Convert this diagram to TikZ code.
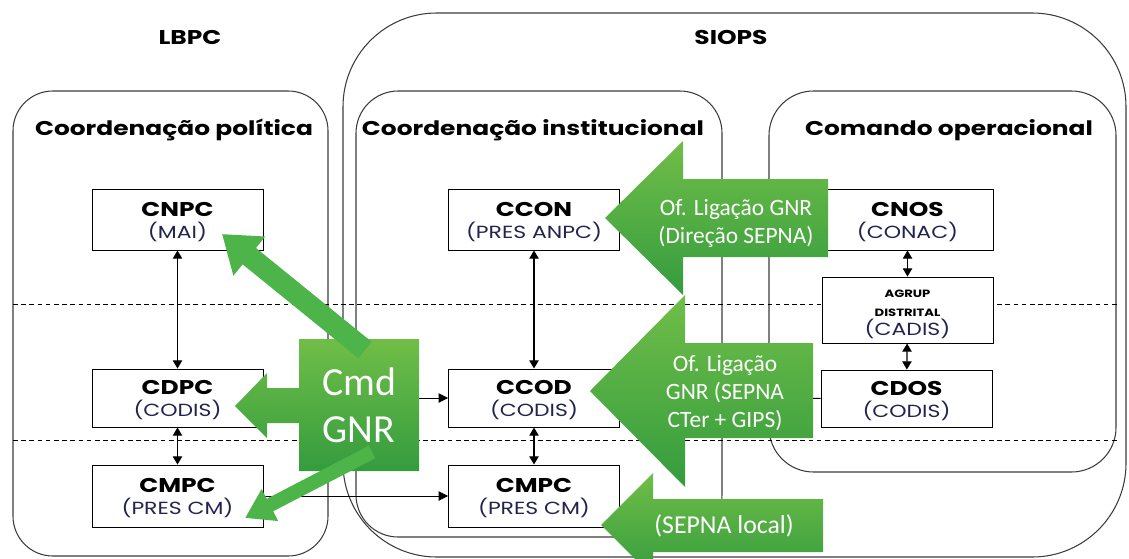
\documentclass[tikz,border=0pt]{standalone}
\usepackage{fontspec}
\setmainfont{Carlito}
\newfontfamily\gothic[FakeStretch=1.25]{Poppins}
\usetikzlibrary{arrows.meta}

\definecolor{gtop}{RGB}{112,190,72}
\definecolor{gbot}{RGB}{52,156,62}
\definecolor{gline}{RGB}{76,180,72}
\definecolor{subtxt}{RGB}{35,35,80}
\definecolor{framec}{RGB}{60,60,60}

\newcommand{\unitname}[2]{{\bfseries\fontsize{17}{19}\selectfont\rule{0pt}{16pt}#1}\\{\color{subtxt}\fontsize{15}{19}\selectfont #2}}
\newcommand{\smallbold}[1]{{\bfseries\fontsize{9}{16}\selectfont #1}}

\begin{document}
\begin{tikzpicture}[x=0.03cm,y=-0.03cm,
    frame/.style={draw=framec, line width=0.9pt},
    unit/.style={draw, fill=white, line width=0.8pt, align=center, inner sep=1pt,
        minimum width=5.13cm, minimum height=1.83cm, font=\gothic\fontsize{15}{19}\selectfont},
    title/.style={font=\gothic\bfseries\fontsize{17}{19}\selectfont},
    link/.style={{Triangle[width=8pt,length=7pt]}-{Triangle[width=8pt,length=7pt]}, line width=1pt},
    feed/.style={-{Triangle[width=8pt,length=8pt]}, line width=0.8pt},
    greenbox/.style={top color=gtop, bottom color=gbot},
    greentxt/.style={text=white, align=center, font=\fontsize{20}{24}\selectfont}]
    \useasboundingbox (0,0) rectangle (1129,558);

    % frames
    \draw[frame, rounded corners=80pt] (343,13) rectangle (1126,557);
    \draw[frame, rounded corners=34pt] (13,91) rectangle (328,556);
    \draw[frame, rounded corners=36pt] (356,91) rectangle (722,537);
    \draw[frame, rounded corners=38pt] (769,91) rectangle (1116,472);

    \node[title] (lbpc) at (190,37) {LBPC};
    \node[title] (siops) at (731,37) {SIOPS};
    \node[title] (pol) at (174,130) {Coordenação política};
    \node[title] (inst) at (533,130) {Coordenação institucional};
    \node[title] (oper) at (949,130) {Comando operacional};

    % levels
    \draw[dashed, line width=0.7pt, dash pattern=on 4pt off 3pt] (13,304) -- (1117,304);
    \draw[dashed, line width=0.7pt, dash pattern=on 4pt off 3pt] (13,440) -- (1117,440);

    \node[unit] (cnpc) at (177.5,219.5) {\unitname{CNPC}{(MAI)}};
    \node[unit, minimum height=1.74cm] (cdpc) at (177.5,398) {\unitname{CDPC}{(CODIS)}};
    \node[unit, minimum height=1.86cm] (cmpc1) at (177.5,496) {\unitname{CMPC}{(PRES CM)}};
    \node[unit] (ccon) at (534,219.5) {\unitname{CCON}{(PRES ANPC)}};
    \node[unit, minimum height=1.74cm] (ccod) at (534,398) {\unitname{CCOD}{(CODIS)}};
    \node[unit, minimum height=1.86cm] (cmpc2) at (534,496) {\unitname{CMPC}{(PRES CM)}};
    \node[unit] (cnos) at (907.5,219.5) {\unitname{CNOS}{(CONAC)}};
    \node[unit, minimum height=1.98cm, font=\gothic\fontsize{9}{16}\selectfont] (agrup) at (907.5,310)
        {\smallbold{\rule{0pt}{14pt}AGRUP}\\\smallbold{DISTRITAL}\\{\color{subtxt}\fontsize{15}{16}\selectfont (CADIS)}};
    \node[unit, minimum height=1.71cm] (cdos) at (906.5,398.5) {\unitname{CDOS}{(CODIS)}};

    \draw[link] (cnpc) to (cdpc);
    \draw[link] (cdpc) to (cmpc1);
    \draw[link] (ccon) to (ccod);
    \draw[link] (ccod) to (cmpc2);
    \draw[link] (cnos) to (agrup);
    \draw[link] (agrup) to (cdos);
    \draw[feed] (cdpc) to (ccod);
    \draw[feed] (cmpc1) to (cmpc2);
    \draw[feed] (cdos) to (ccod);

    % GNR links
    \shade[greenbox] (605,218) -- (683,141) -- (683,179) -- (828,179) -- (828,257)
        -- (683,257) -- (683,295) -- cycle;
    \shade[greenbox] (590,391) -- (685,295) -- (685,343) -- (813,343) -- (813,438)
        -- (685,438) -- (685,487) -- cycle;
    \shade[greenbox] (601,525) -- (653,473) -- (653,499) -- (823,499) -- (823,552)
        -- (653,552) -- (653,577) -- cycle;
    \shade[greenbox] (235,406) -- (267,373) -- (267,388) -- (299,388) -- (299,339)
        -- (419,339) -- (419,471) -- (299,471) -- (299,423) -- (267,423) -- (267,438) -- cycle;

    \node[greentxt] (sepna) at (736,223) {Of. Ligação GNR\\(Direção SEPNA)};
    \node[greentxt] (cter) at (725,393) {Of. Ligação\\GNR (SEPNA\\CTer + GIPS)};
    \node[greentxt, font=\fontsize{22}{26}\selectfont] (local) at (724,526) {(SEPNA local)};
    \node[text=white, align=center, font=\fontsize{34}{40}\selectfont] (cmd) at (359,405) {Cmd\\GNR};

    \coordinate (cmd top) at (365,350);
    \coordinate (cmd low) at (372,452);
    \coordinate (cnpc tip) at (222,234);
    \coordinate (cmpc tip) at (245,518);
    \draw[gline, line width=18pt, -{Triangle[width=41pt,length=30pt]}] (cmd top) -- (cnpc tip);
    \draw[gline, line width=12pt, -{Triangle[width=29pt,length=24pt]}] (cmd low) -- (cmpc tip);
\end{tikzpicture}
\end{document}
